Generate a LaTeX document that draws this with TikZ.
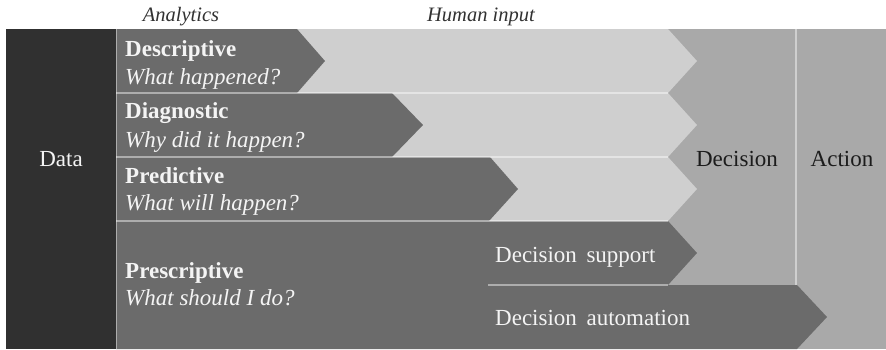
\documentclass[tikz,border=0pt]{standalone}
\usepackage{fontspec}
\setmainfont{Liberation Serif}
\definecolor{dataC}{RGB}{48,48,48}
\definecolor{darkA}{RGB}{107,107,107}
\definecolor{lightA}{RGB}{207,207,207}
\definecolor{medA}{RGB}{169,169,169}
\definecolor{txtL}{RGB}{244,244,244}
\definecolor{txtD}{RGB}{28,28,28}
\definecolor{hdr}{RGB}{50,50,50}
\begin{document}
\begin{tikzpicture}[x=1pt,y=-1pt,
  mainfont/.style={font=\fontsize{23}{26}\selectfont, inner sep=0pt},
  lighttxt/.style={mainfont, text=txtL},
  darktxt/.style={mainfont, text=txtD},
  hdrtxt/.style={font=\fontsize{20.5}{23}\selectfont\itshape, inner sep=0pt, text=hdr},
  sepline/.style={draw=white, draw opacity=0.45, line width=1.3pt}]
\useasboundingbox (0,0) rectangle (886,349);
\fill[white] (0,0) rectangle (886,349);
% medium background (decision / action)
\fill[medA] (116,29) rectangle (886,349);
% light (human input) arrows
\foreach \t in {29,93,157}
  \fill[lightA] (116,\t) -- (668,\t) -- (697,{\t+32}) -- (668,{\t+64}) -- (116,{\t+64}) -- cycle;
% dark analytics arrows
\fill[darkA] (116,29) -- (297,29) -- (325,61) -- (297,93) -- (116,93) -- cycle;
\fill[darkA] (116,93) -- (392,93) -- (423,125) -- (392,157) -- (116,157) -- cycle;
\fill[darkA] (116,157) -- (490,157) -- (518,189) -- (489,221) -- (116,221) -- cycle;
% decision support and automation
\fill[darkA] (116,221) -- (668,221) -- (697,253) -- (668,285) -- (116,285) -- cycle;
\fill[darkA] (116,285) -- (797,285) -- (827,317) -- (797,349) -- (116,349) -- cycle;
% data box
\fill[dataC] (6,29) rectangle (116,349);
% separator lines
\draw[sepline] (116,93) -- (668,93);
\draw[sepline] (116,157) -- (668,157);
\draw[sepline] (116,221) -- (668,221);
\draw[sepline] (488,285) -- (668,285);
\draw[sepline] (796,29) -- (796,285);
\draw[sepline] (116.5,29) -- (116.5,349);
% texts
\node[hdrtxt, anchor=base] (hAn) at (181,21) {Analytics};
\node[hdrtxt, anchor=base] (hHu) at (481,21) {Human input};
\node[lighttxt, anchor=base] (data) at (61,166) {Data};
\node[darktxt, anchor=base] (dec) at (737,166) {Decision};
\node[darktxt, anchor=base] (act) at (842,166) {Action};
\node[lighttxt, anchor=base west, font=\fontsize{23}{26}\selectfont\bfseries] (d1) at (125,56) {Descriptive};
\node[lighttxt, anchor=base west, font=\fontsize{23}{26}\selectfont\itshape] (d2) at (125,84) {What happened?};
\node[lighttxt, anchor=base west, font=\fontsize{23}{26}\selectfont\bfseries] (g1) at (125,118) {Diagnostic};
\node[lighttxt, anchor=base west, font=\fontsize{23}{26}\selectfont\itshape] (g2) at (125,147) {Why did it happen?};
\node[lighttxt, anchor=base west, font=\fontsize{23}{26}\selectfont\bfseries] (p1) at (125,183) {Predictive};
\node[lighttxt, anchor=base west, font=\fontsize{23}{26}\selectfont\itshape] (p2) at (125,210) {What will happen?};
\node[lighttxt, anchor=base west, font=\fontsize{23}{26}\selectfont\bfseries] (r1) at (125,278) {Prescriptive};
\node[lighttxt, anchor=base west, font=\fontsize{23}{26}\selectfont\itshape] (r2) at (125,305) {What should I do?};
\node[lighttxt, anchor=base west] (ds) at (495,262) {Decision\ \,support};
\node[lighttxt, anchor=base west] (da) at (495,325) {Decision\ \,automation};
\end{tikzpicture}
\end{document}
